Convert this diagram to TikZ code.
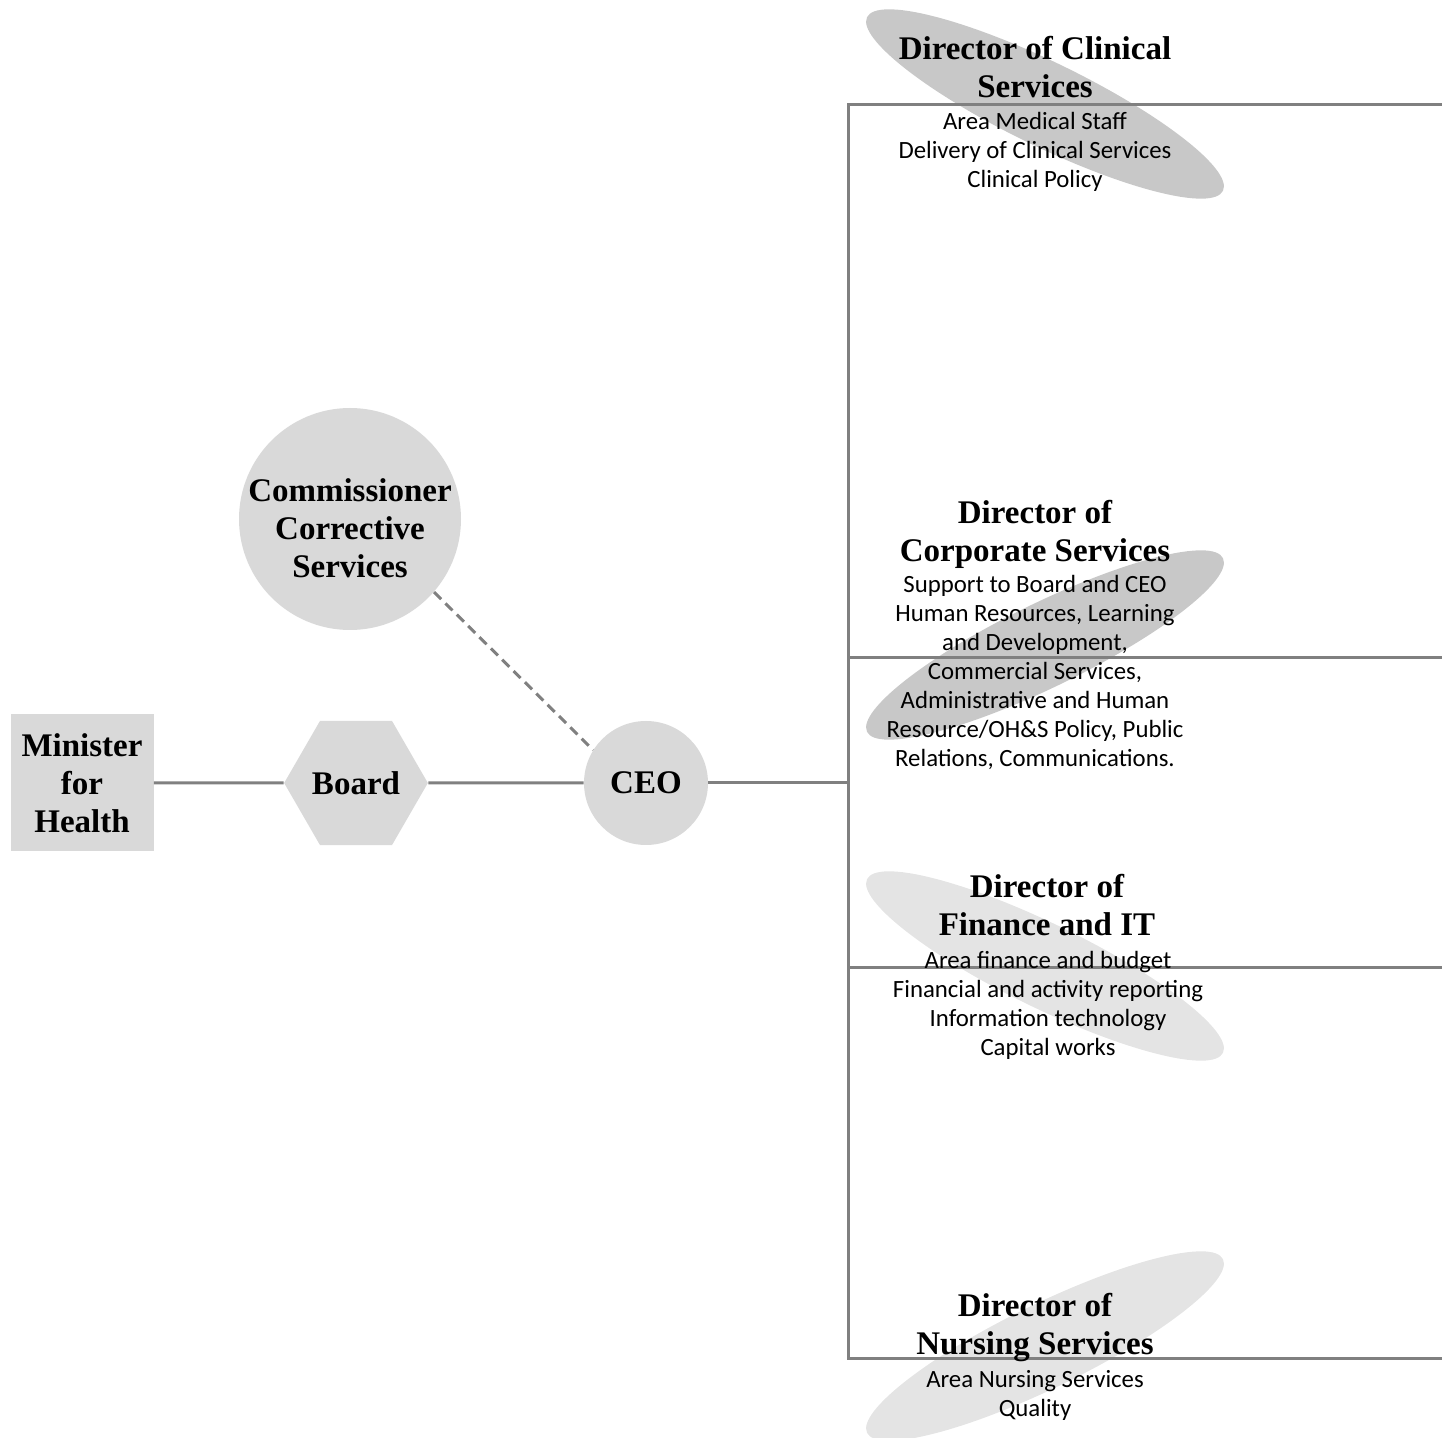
\documentclass[tikz,border=0pt]{standalone}
\usepackage{fontspec}
\setmainfont{Liberation Serif}
\newfontfamily\listfont{Carlito}
\usetikzlibrary{shapes.geometric}
\definecolor{nodegrey}{RGB}{217,217,217}
\definecolor{darkell}{RGB}{200,200,200}
\definecolor{lightell}{RGB}{228,228,228}
\definecolor{linegrey}{RGB}{128,128,128}

\begin{document}
\begin{tikzpicture}[x=0.5pt,y=-0.5pt,
  unit/.style={fill=nodegrey,inner sep=0pt,align=center,font=\fontsize{16.5}{19}\selectfont\bfseries},
  title/.style={align=center,font=\fontsize{16.5}{19}\selectfont\bfseries},
  duties/.style={align=center,font=\listfont\fontsize{12.4}{14.5}\selectfont},
  blob/.style={ellipse,minimum width=198pt,minimum height=42pt,inner sep=0pt},
  link/.style={draw=linegrey,line width=1.5pt}]
 \useasboundingbox (0,0) rectangle (1442,1438);
 % shaded ellipses behind the directors
 \node[blob,fill=darkell,rotate=-26] (clinEll) at (1045,104) {};
 \node[blob,fill=darkell,rotate=26] (corpEll) at (1045,645) {};
 \node[blob,fill=lightell,rotate=-26] (finEll) at (1045,966) {};
 \node[blob,fill=lightell,rotate=26] (nursEll) at (1045,1346) {};

 % left part of the chart
 \node[unit,rectangle,minimum width=71.5pt,minimum height=68.5pt] (minister) at (82,783) {Minister\\for\\Health};
 \node[unit,regular polygon,regular polygon sides=6,minimum size=68.5pt] (board) at (356,783) {Board};
 \node[unit,circle,minimum size=111pt,text height=59pt,inner sep=-3pt] (comm) at (350,519) {Commissioner\\Corrective\\Services};
 \node[unit,circle,minimum size=62pt] (ceo) at (646,783) {CEO};

 \coordinate (spineTop) at (848,105);
 \coordinate (spineBot) at (848,1358);
 \coordinate (clinR) at (1442,105);
 \coordinate (corpL) at (848,658);
 \coordinate (corpR) at (1442,658);
 \coordinate (finL) at (848,968);
 \coordinate (finR) at (1442,968);
 \coordinate (nursR) at (1442,1358);

 \draw[link] (minister) -- (board);
 \draw[link] (board) -- (ceo);
 \draw[link,dash pattern=on 5pt off 3pt] (comm.-41) -- (ceo.148);
 \draw[link] (ceo) -- (ceo -| spineTop);
 \draw[link] (clinR) -- (spineTop) -- (spineBot) -- (nursR);
 \draw[link] (corpL) -- (corpR);
 \draw[link] (finL) -- (finR);

 % directors and their duties
 \node[title] (clinT) at (1035,67) {Director of Clinical\\Services};
 \node[duties] (clinD) at (1035,152) {Area Medical Staff\\Delivery of Clinical Services\\Clinical Policy};
 \node[title] (corpT) at (1035,534) {Director of\\Corporate Services};
 \node[duties] (corpD) at (1035,672) {Support to Board and CEO\\Human Resources, Learning\\and Development,\\Commercial Services,\\Administrative and Human\\Resource/OH\&S Policy, Public\\Relations, Communications.};
 \node[title] (finT) at (1047,905) {Director of\\Finance and IT};
 \node[duties] (finD) at (1048,1005) {Area finance and budget\\Financial and activity reporting\\Information technology\\Capital works};
 \node[title] (nursT) at (1035,1328) {Director of\\Nursing Services};
 \node[duties] (nursD) at (1035,1395) {Area Nursing Services\\Quality};
\end{tikzpicture}
\end{document}
